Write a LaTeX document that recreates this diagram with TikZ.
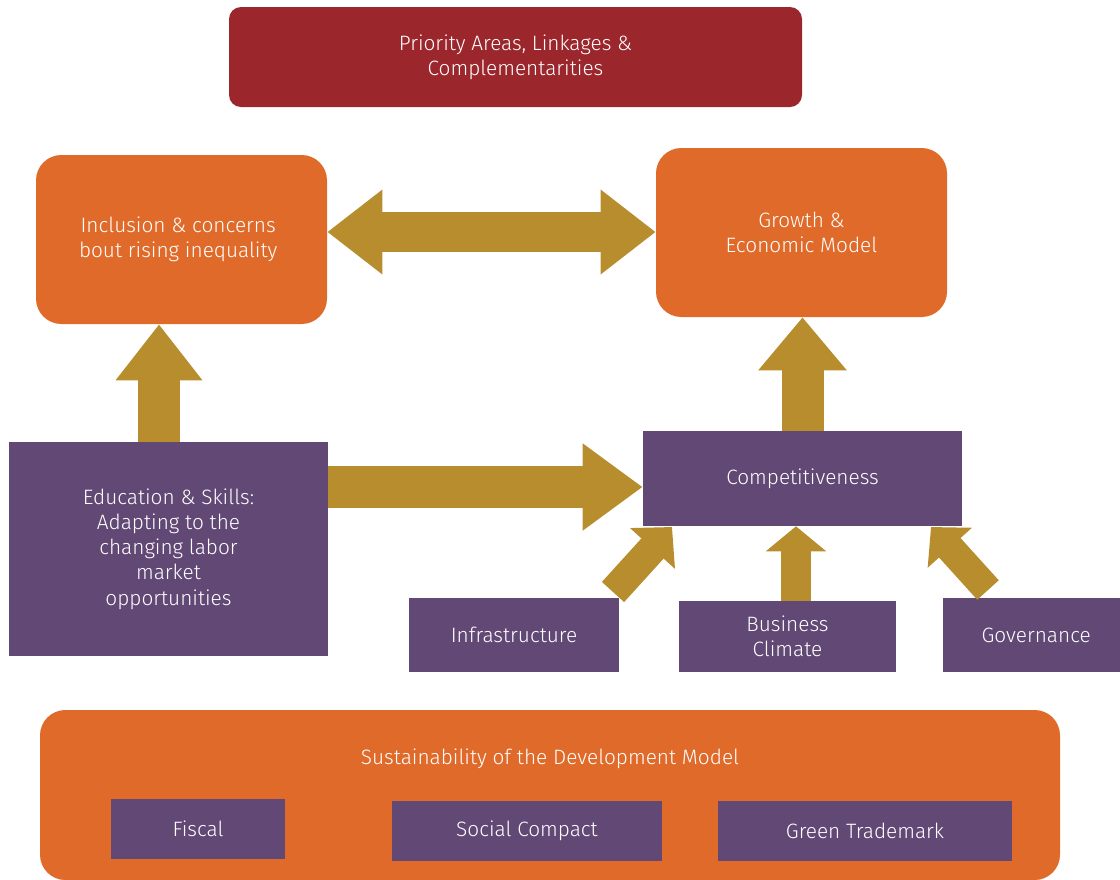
\documentclass[tikz,border=0pt]{standalone}
\usepackage{fontspec}
\setmainfont{Fira Sans}[UprightFont=* Light]
\usetikzlibrary{arrows.meta,calc}
\definecolor{dred}{HTML}{9B272D}
\definecolor{orng}{HTML}{E06A2A}
\definecolor{purp}{HTML}{624875}
\definecolor{gold}{HTML}{B88D2E}
\begin{document}
\begin{tikzpicture}[x=0.75pt,y=-0.75pt,
  txt/.style={text=white,font=\fontsize{15.6}{18.9}\selectfont,align=center,inner sep=0pt},
  redbox/.style={fill=dred,rounded corners=9pt},
  orbox/.style={fill=orng,rounded corners=19pt},
  pbox/.style={fill=purp},
  fat/.style n args={3}{draw=gold,line width=#1*0.75pt,line cap=butt,
     -{Triangle[length=#2*0.75pt,width=#3*0.75pt]}},
  dfat/.style n args={3}{draw=gold,line width=#1*0.75pt,line cap=butt,
     {Triangle[length=#2*0.75pt,width=#3*0.75pt]}-{Triangle[length=#2*0.75pt,width=#3*0.75pt]}}
]
\useasboundingbox (0,0) rectangle (1120,879);
% boxes
\node[txt,redbox,minimum width=573*0.75pt,minimum height=100*0.75pt] (prio) at (515.5,57)
  {Priority Areas, Linkages \&\\Complementarities};
\node[txt,orbox,minimum width=291*0.75pt,minimum height=169*0.75pt] (incl) at (181.5,239.5)
  {Inclusion \& concerns\hspace*{5pt}\\bout rising inequality\hspace*{5pt}};
\node[txt,orbox,minimum width=291*0.75pt,minimum height=169*0.75pt] (grow) at (801.5,232.5)
  {Growth \&\\Economic Model};
\node[txt,pbox,minimum width=319*0.75pt,minimum height=214*0.75pt] (edu) at (168.5,549)
  {Education \& Skills:\\Adapting to the\\changing labor\\market\\opportunities};
\node[txt,pbox,minimum width=319*0.75pt,minimum height=95*0.75pt] (comp) at (802.5,478.5)
  {Competitiveness};
\node[txt,pbox,minimum width=210*0.75pt,minimum height=74*0.75pt] (infra) at (514,635)
  {Infrastructure};
\node[txt,pbox,minimum width=217*0.75pt,minimum height=71*0.75pt] (bus) at (787.5,636.5)
  {Business\\Climate};
\node[txt,pbox,minimum width=177*0.75pt,minimum height=74*0.75pt] (gov) at (1031.5,635)
  {\hspace*{7pt}Governance};
\node[orbox,minimum width=1020*0.75pt,minimum height=170*0.75pt,inner sep=0pt] (sus) at (550,795) {};
\node[txt] (sust) at (550,759) {Sustainability of the Development Model};
\node[txt,pbox,minimum width=174*0.75pt,minimum height=60*0.75pt] (fisc) at (198,829) {Fiscal};
\node[txt,pbox,minimum width=270*0.75pt,minimum height=60*0.75pt] (soc) at (527,831) {Social Compact};
\node[txt,pbox,minimum width=294*0.75pt,minimum height=60*0.75pt] (green) at (865,831) {Green Trademark};
% arrows
\draw[dfat={40}{55}{81}] (incl.east |- 0,232) -- (grow.west |- 0,232);
\draw[fat={42}{56}{83}] (edu.north -| 159,0) -- (incl.south -| 159,0);
\draw[fat={42}{60}{83}] (edu.east |- 0,487) -- (comp.west |- 0,487);
\draw[fat={42}{53}{85}] (comp.north) -- (comp.north |- grow.south);
\draw[fat={30}{25}{59}] (bus.north -| 796,0) -- (comp.south -| 796,0);
\coordinate (t1) at (613,592);
\coordinate (h1) at (672,527);
\draw[fat={30}{29}{59}] (t1) -- (h1);
\coordinate (t2) at (988,590);
\coordinate (h2) at (931,527);
\draw[fat={29}{28}{58}] (t2) -- (h2);
\end{tikzpicture}
\end{document}
